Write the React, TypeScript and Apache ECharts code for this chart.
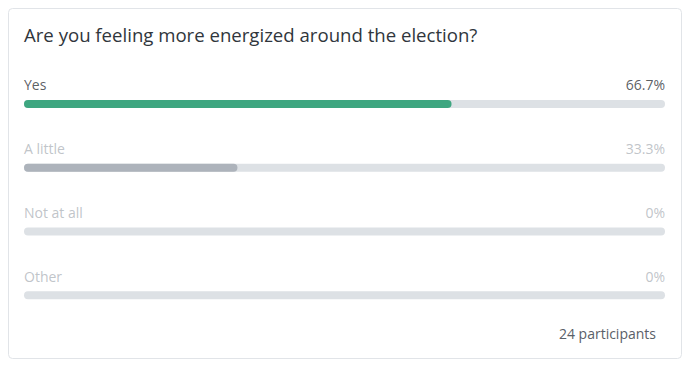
import React, { useEffect, useRef } from "react";
import * as echarts from "echarts";

const title = "Are you feeling more energized around the election?";
const categories = ["Yes", "A little", "Not at all", "Other"];
const percents = [66.7, 33.3, 0, 0];
const percentLabels = ["66.7%", "33.3%", "0%", "0%"];
const participants = "24 participants";

const FONT = "'Open Sans', 'Noto Sans', sans-serif";
const barColors = ["#3ea680", "#adb3bb", "#adb3bb", "#adb3bb"];
const labelColors = ["#2f353b", "#b0b5bb", "#b0b5bb", "#b0b5bb"];

export default function App() {
  const ref = useRef<HTMLDivElement>(null);
  useEffect(() => {
    if (!ref.current) return;
    const chart = echarts.init(ref.current, null, { renderer: "svg" });
    chart.setOption({
      animation: false,
      backgroundColor: "#ffffff",
      title: {
        text: title,
        left: 24,
        top: 25,
        padding: 0,
        textStyle: { fontFamily: FONT, fontSize: 18.6, fontWeight: "normal", color: "#30363c" },
      },
      graphic: [
        {
          type: "rect",
          shape: { x: 8.5, y: 8.5, width: 673, height: 350, r: 4 },
          style: { fill: "none", stroke: "#e1e4e8", lineWidth: 1 },
          z: -1,
        },
        {
          type: "text",
          right: 38,
          top: 326,
          style: { text: participants, fontFamily: FONT, fontSize: 14, fill: "#5a6068" },
        },
      ],
      grid: { left: 24, right: 29, top: 72, bottom: 49, containLabel: false },
      xAxis: { type: "value", min: 0, max: 100, show: false },
      yAxis: {
        type: "category",
        data: categories,
        inverse: true,
        show: false,
      },
      series: [
        {
          type: "bar",
          barWidth: 8,
          data: percents.map((v, i) => ({ value: v, itemStyle: { color: barColors[i] } })),
          itemStyle: { borderRadius: 4 },
          showBackground: true,
          backgroundStyle: { color: "#dde1e5", borderRadius: 4 },
          silent: true,
        },
        {
          type: "scatter",
          symbolSize: 0,
          data: categories.map((c, i) => ({
            value: [0, c],
            label: {
              show: true,
              formatter: c,
              position: [0, -19],
              align: "left",
              verticalAlign: "middle",
              fontFamily: FONT,
              fontSize: 14,
              color: labelColors[i],
            },
          })),
          silent: true,
        },
        {
          type: "scatter",
          symbolSize: 0,
          data: categories.map((c, i) => ({
            value: [100, c],
            label: {
              show: true,
              formatter: percentLabels[i],
              position: [0, -19],
              align: "right",
              verticalAlign: "middle",
              fontFamily: FONT,
              fontSize: 14,
              color: labelColors[i],
            },
          })),
          silent: true,
        },
      ],
    });
    return () => chart.dispose();
  }, []);
  return (
    <div
      ref={ref}
      style={{ position: "fixed", left: 0, top: 0, width: 694, height: 376 }}
    />
  );
}
